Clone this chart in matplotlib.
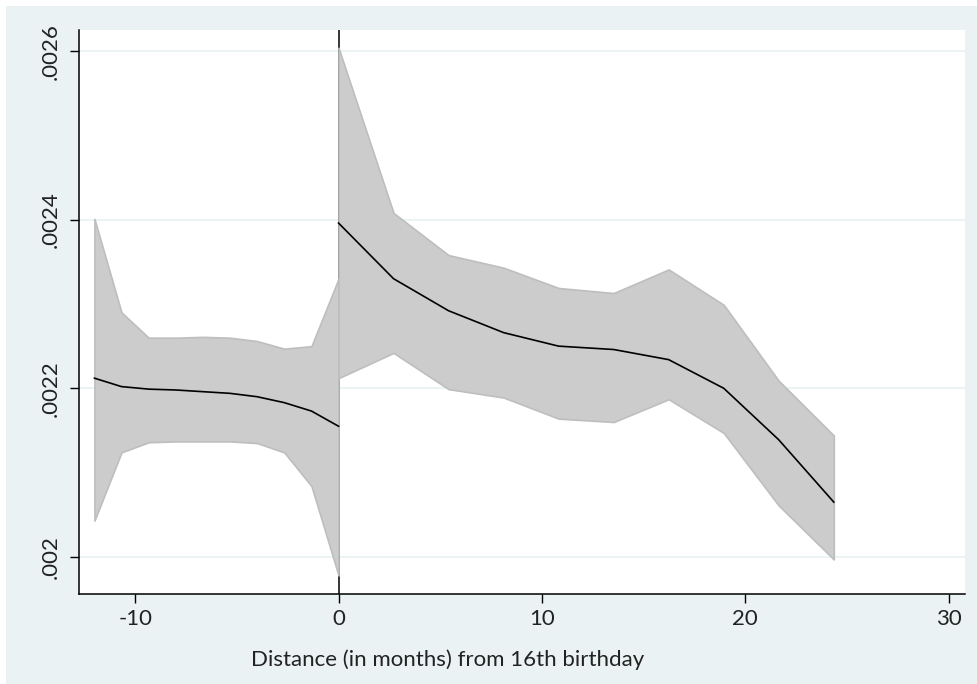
import matplotlib
matplotlib.use("Agg")
import matplotlib.pyplot as plt
from matplotlib.patches import Rectangle
import numpy as np

# ---- data ----
months_pre = [-12.0, -10.67, -9.33, -8.0, -6.67, -5.33, -4.0, -2.67, -1.33, 0.0]
mean_pre = [0.002212, 0.002202, 0.002199, 0.002198, 0.002196, 0.002194, 0.002190, 0.002183, 0.002173, 0.002155]
upper_pre = [0.002401, 0.002290, 0.002260, 0.002260, 0.002261, 0.002260, 0.002256, 0.002247, 0.002250, 0.002330]
lower_pre = [0.002043, 0.002124, 0.002136, 0.002137, 0.002137, 0.002137, 0.002135, 0.002124, 0.002084, 0.001978]

months_post = [0.0, 2.705, 5.41, 8.12, 10.82, 13.53, 16.23, 18.94, 21.64, 24.35]
mean_post = [0.002396, 0.002330, 0.002292, 0.002266, 0.002250, 0.002246, 0.002234, 0.002200, 0.002139, 0.002065]
upper_post = [0.002604, 0.002408, 0.002358, 0.002343, 0.002319, 0.002313, 0.002341, 0.002299, 0.002209, 0.002144]
lower_post = [0.002212, 0.002242, 0.002199, 0.002189, 0.002164, 0.002160, 0.002187, 0.002147, 0.002061, 0.001997]

xticks = [-10, 0, 10, 20, 30]
yticks = [0.002, 0.0022, 0.0024, 0.0026]
ytick_labels = [".002", ".0022", ".0024", ".0026"]
xlabel = "Distance (in months) from 16th birthday"

W, H = 977, 684
BG = "#EAF2F3"
FONT = ["Lato", "DejaVu Sans"]
plt.rcParams["font.family"] = FONT

fig = plt.figure(figsize=(W / 100, H / 100), dpi=100, facecolor="white")
fig.patches.append(Rectangle((6 / W, 0), 1, (H - 6) / H, transform=fig.transFigure,
                             facecolor=BG, edgecolor="none", zorder=-10))

ax = fig.add_axes([79 / W, (H - 594) / H, (965 - 79) / W, (594 - 30) / H])
ax.set_facecolor("white")

# gridlines
for yv in yticks:
    ax.axhline(yv, color=BG, lw=1.3, zorder=0)

# vertical line at 0
ax.axvline(0, color="black", lw=1.1, zorder=1)

fill_c = "#CCCCCC"
edge_c = "#BEBEBE"
for m, lo, up, mn in [(months_pre, lower_pre, upper_pre, mean_pre),
                      (months_post, lower_post, upper_post, mean_post)]:
    ax.fill_between(m, lo, up, facecolor=fill_c, edgecolor=edge_c, lw=1.2, zorder=2)
    ax.plot(m, mn, color="black", lw=1.2, zorder=3)

ax.set_xlim(-12.76, 30.8)
ax.set_ylim(0.001956, 0.002625)

ax.set_xticks(xticks)
ax.set_xticklabels([str(t) for t in xticks])
ax.set_yticks(yticks)
ax.set_yticklabels(ytick_labels, rotation=90, va="center")

for s in ["top", "right"]:
    ax.spines[s].set_visible(False)
for s in ["left", "bottom"]:
    ax.spines[s].set_color("black")
    ax.spines[s].set_linewidth(1.1)

ax.tick_params(axis="both", direction="out", length=6.5, width=1.0, colors="black",
               labelsize=16, labelcolor="#222222")
ax.tick_params(axis="x", pad=4)
ax.tick_params(axis="y", pad=7)

fig.text(447.5 / W, 1 - 660 / H, xlabel, ha="center", va="center", fontsize=16,
         color="#222222")

fig.savefig("out.png", dpi=100, facecolor="white")
